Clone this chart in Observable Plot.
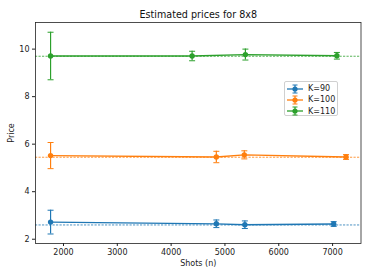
<!DOCTYPE html>
<html>
<head>
<meta charset="utf-8">
<script src="https://cdn.jsdelivr.net/npm/d3@7"></script>
<script src="https://cdn.jsdelivr.net/npm/@observablehq/plot@0.6"></script>
<style>
  html, body { margin: 0; padding: 0; background: #fff; }
  #wrap { position: relative; width: 369px; height: 277px; font-family: "DejaVu Sans", sans-serif; }
  #legend { position: absolute; left: 284px; top: 81px; width: 54px; height: 35px;
    border: 0.8px solid #d0d0d0; border-radius: 2px; background: rgba(255,255,255,0.85);
    box-sizing: border-box; padding-top: 1px; }
  .entry { display: flex; align-items: center; height: 11.3px; font-size: 8px; color: #222; }
  .entry svg { margin-left: 2px; margin-right: 5px; }
</style>
</head>
<body>
<div id="wrap"></div>
<script>
const seriesNames = ["K=90", "K=100", "K=110"];
const colors = ["#1f77b4", "#ff7f0e", "#2ca02c"];

const shots90 = [1760, 4840, 5370, 7020];
const price90 = [2.72, 2.65, 2.61, 2.64];
const err90 = [0.50, 0.16, 0.16, 0.10];

const shots100 = [1760, 4840, 5360, 7250];
const price100 = [5.52, 5.46, 5.55, 5.46];
const err100 = [0.55, 0.24, 0.17, 0.10];

const shots110 = [1760, 4390, 5380, 7080];
const price110 = [9.71, 9.71, 9.77, 9.72];
const err110 = [1.00, 0.20, 0.23, 0.14];

const refPrice = [2.60, 5.45, 9.70];

const xTicks = [2000, 3000, 4000, 5000, 6000, 7000];
const yTicks = [2, 4, 6, 8, 10];

const shotsAll = [shots90, shots100, shots110];
const priceAll = [price90, price100, price110];
const errAll = [err90, err100, err110];

const rows = [];
seriesNames.forEach((name, s) => {
  shotsAll[s].forEach((x, i) => {
    rows.push({series: name, x, y: priceAll[s][i], lo: priceAll[s][i] - errAll[s][i], hi: priceAll[s][i] + errAll[s][i]});
  });
});
const refs = seriesNames.map((name, s) => ({series: name, y: refPrice[s]}));

const capSymbol = {
  draw(ctx, size) {
    const r = Math.sqrt(size / Math.PI);
    ctx.moveTo(-r, 0); ctx.lineTo(r, 0);
  }
};

const color = {domain: seriesNames, range: colors};

const chart = Plot.plot({
  width: 369,
  height: 277,
  marginLeft: 35,
  marginRight: 8.5,
  marginTop: 22,
  marginBottom: 34,
  style: {fontFamily: "DejaVu Sans, sans-serif", fontSize: "8px", color: "#222", background: "#fff"},
  x: {domain: [1480, 7528], ticks: xTicks},
  y: {domain: [1.82, 11.12], ticks: yTicks},
  color,
  marks: [
    Plot.ruleY(refs, {y: "y", stroke: "series", strokeWidth: 0.8, strokeDasharray: "2.2,1.3"}),
    Plot.ruleX(rows, {x: "x", y1: "lo", y2: "hi", stroke: "series", strokeWidth: 1.2}),
    Plot.dot(rows, {x: "x", y: "lo", stroke: "series", symbol: capSymbol, r: 3, strokeWidth: 1}),
    Plot.dot(rows, {x: "x", y: "hi", stroke: "series", symbol: capSymbol, r: 3, strokeWidth: 1}),
    Plot.line(rows, {x: "x", y: "y", z: "series", stroke: "series", strokeWidth: 1.3}),
    Plot.dot(rows, {x: "x", y: "y", fill: "series", r: 2.7}),
    Plot.frame({stroke: "#222", strokeWidth: 0.8}),
    Plot.axisX({ticks: xTicks, tickFormat: d => String(d), tickSize: 3, tickPadding: 2.5, label: "Shots (n)", labelAnchor: "center", labelOffset: 22.5, labelArrow: "none"}),
    Plot.axisY({ticks: yTicks, tickFormat: d => String(d), tickSize: 3, tickPadding: 3, label: "Price", labelAnchor: "center", labelOffset: 27, labelArrow: "none"}),
    Plot.text(["Estimated prices for 8x8"], {frameAnchor: "top", dy: -8, fontSize: 9.6, fill: "#111", lineAnchor: "middle"})
  ]
});

const wrap = document.getElementById("wrap");
wrap.appendChild(chart);

const legend = document.createElement("div");
legend.id = "legend";
seriesNames.forEach((name, s) => {
  const e = document.createElement("div");
  e.className = "entry";
  const c = colors[s];
  e.innerHTML = `<svg width="16" height="10" viewBox="0 0 16 10">
    <line x1="0" y1="5" x2="16" y2="5" stroke="${c}" stroke-width="1.3"/>
    <line x1="8" y1="1" x2="8" y2="9" stroke="${c}" stroke-width="1.2"/>
    <line x1="5.5" y1="1" x2="10.5" y2="1" stroke="${c}" stroke-width="1"/>
    <line x1="5.5" y1="9" x2="10.5" y2="9" stroke="${c}" stroke-width="1"/>
    <circle cx="8" cy="5" r="2.6" fill="${c}"/></svg><span>${name}</span>`;
  legend.appendChild(e);
});
wrap.appendChild(legend);
</script>
</body>
</html>
